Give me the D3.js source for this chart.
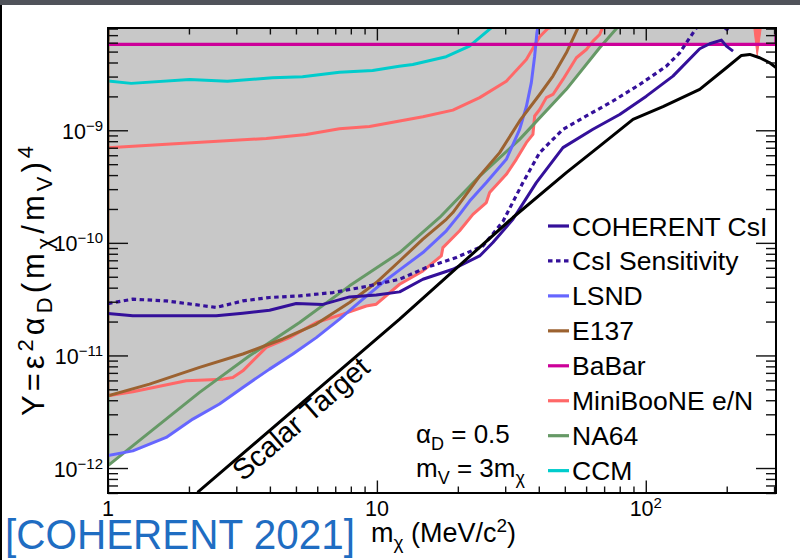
<!DOCTYPE html>
<html>
<head>
<meta charset="utf-8">
<script src="https://cdn.jsdelivr.net/npm/d3@7"></script>
<style>
  body { margin: 0; background: #fff; }
  svg text { font-family: "Liberation Sans", Arial, Helvetica, sans-serif; fill: #000; }
</style>
</head>
<body>
<svg id="chart" width="800" height="560"></svg>
<script>
// Dark-sector limits: points are [m_chi (MeV/c^2), Y]
const coherentCsI = [[1,2.36e-11],[1.237,2.25e-11],[1.646,2.25e-11],[2.527,2.25e-11],[3.173,2.37e-11],[3.989,2.52e-11],[5.013,2.89e-11],[6.297,2.84e-11],[7.914,3.31e-11],[9.95,3.45e-11],[12.15,3.67e-11],[14.83,4.75e-11],[19.17,5.83e-11],[24.11,7.65e-11],[27.01,1.006e-10],[32.06,1.62e-10],[39.17,3.43e-10],[49.2,7.01e-10],[63.62,1.02e-9],[79.97,1.38e-9],[100.5,2.01e-9],[126.2,3.03e-9],[158.7,5.3e-9],[172.9,5.87e-9],[191.1,6.32e-9],[199.5,5.59e-9],[211.1,5.05e-9]];
const csiSensitivity = [[1,2.89e-11],[1.237,3.16e-11],[1.646,3.05e-11],[2.527,2.67e-11],[3.173,3.05e-11],[3.989,3.27e-11],[5.157,3.38e-11],[6.861,3.62e-11],[9.133,4.10e-11],[12.15,4.75e-11],[15.27,6.04e-11],[19.74,7.41e-11],[24.80,9.39e-11],[29.43,1.55e-10],[34.93,3.43e-10],[40.3,6.33e-10],[49.2,1.02e-9],[60.12,1.34e-9],[75.51,1.82e-9],[94.9,2.55e-9],[119.3,3.71e-9],[133.7,4.88e-9],[154.3,8.13e-9],null,[196.6,8.13e-9],[205.2,7.5e-9]];
const lsnd = [[1,1.29e-12],[1.237,1.42e-12],[1.646,1.87e-12],[2.068,2.72e-12],[2.598,3.70e-12],[3.173,5.20e-12],[3.989,7.56e-12],[4.869,1.03e-11],[5.952,1.44e-11],[7.264,2.10e-11],[8.870,3.16e-11],[10.53,4.44e-11],[12.15,5.75e-11],[14.83,8.20e-11],[18.12,1.28e-10],[20.31,1.79e-10],[22.13,2.35e-10],[25.53,3.43e-10],[30.3,5.52e-10],[33.95,1.02e-9],[35.96,1.62e-9],[37.53,2.65e-9],[38.61,4.55e-9],[39.37,7.35e-9],[39.72,8.3e-9]];
const e137 = [[1,8.3e-9],[1,4.38e-12],[1.427,5.56e-12],[2.190,7.83e-12],[3.173,1.03e-11],[4.470,1.40e-11],[5.952,1.90e-11],[7.914,2.95e-11],[9.95,4.44e-11],[12.15,6.9e-11],[14.83,1.08e-10],[18.12,1.62e-10],[19.17,1.86e-10],[24.11,3.92e-10],[28.61,6.33e-10],[33.95,1.21e-9],[40.3,2.08e-9],[45.16,3.03e-9],[50.65,4.88e-9],[55.96,8.13e-9]];
const babar = [[1,5.8e-9],[305,5.8e-9],[305,8.3e-9]];
const miniBooNEe = [[1,7.01e-10],[1.65,7.50e-10],[3.88,8.47e-10],[5.46,9.19e-10],[7.26,1.03e-9],[9.39,1.08e-9],[12.15,1.21e-9],[14.83,1.32e-9],[19.17,1.51e-9],[24.11,1.95e-9],[30.3,2.73e-9],[35.96,4.26e-9],[40.3,6.77e-9],[43.15,8.0e-9],[46.5,8.4e-9]];
const miniBooNEN = [[1,4.38e-12],[1.237,4.75e-12],[1.954,5.95e-12],[2.673,6.16e-12],[2.912,6.38e-12],[3.173,7.30e-12],[3.878,1.18e-11],[4.733,1.44e-11],[5.952,1.96e-11],[7.473,2.33e-11],[9.133,2.75e-11],[9.95,2.85e-11],[12.15,4.29e-11],[14.83,5.63e-11],[17.36,7.65e-11],[17.60,9.08e-11],[20.31,1.28e-10],[22.76,1.79e-10],[25.53,2.28e-10],[26.26,2.80e-10],[30.3,4.06e-10],[33.0,5.52e-10],[35.96,7.76e-10],[38.05,9.19e-10],[38.61,1.34e-9],[40.3,1.53e-9],[42.68,1.95e-9],[45.16,2.08e-9],[49.2,2.83e-9],[55.2,4.41e-9],[60.12,5.22e-9],[63.62,6.19e-9],[67.38,7.10e-9],[69.31,8.3e-9]];
const miniBooNESpike = [[252,8.3e-9],[259.6,4.55e-9],[269.2,8.3e-9]];
const na64 = [[1,4.38e-12],[1,1.05e-12],[1.427,2.07e-12],[2.190,4.70e-12],[3.360,9.92e-12],[5.157,1.96e-11],[7.914,4.15e-11],[12.15,8.20e-11],[17.12,1.68e-10],[24.11,3.92e-10],[33.95,8.30e-10],[50.65,2.31e-9],[67.38,5.41e-9],[78.81,8.3e-9]];
const ccm = [[1,2.74e-9],[1.22,2.61e-9],[2.01,2.83e-9],[2.78,2.72e-9],[4.09,2.93e-9],[5.29,2.99e-9],[7.26,3.28e-9],[9.64,3.40e-9],[12.1,3.71e-9],[13.6,3.84e-9],[18.1,4.50e-9],[22.1,5.59e-9],[26.9,8.3e-9]];
const scalarTarget = [[2.153,6.09e-13],[12.15,2.10e-11],[32.06,1.68e-10],[50.65,4.21e-10],[67.38,7.24e-10],[89.64,1.25e-9],[115.9,1.62e-9],[158.7,2.31e-9],[199.5,3.59e-9],[226.9,4.62e-9],[243.5,4.72e-9],[265.3,4.41e-9],[289.0,3.98e-9],[305,3.6e-9]];

const legendLabels = ["COHERENT CsI", "CsI Sensitivity", "LSND", "E137", "BaBar", "MiniBooNE e/N", "NA64", "CCM"];
const xTickLabels = [{v: 1, base: "1", exp: ""}, {v: 10, base: "10", exp: ""}, {v: 100, base: "10", exp: "2"}];
const yTickExponents = [-12, -11, -10, -9];
const xDomain = [1, 305];
const yDomain = [6e-13, 8.1e-9];

const colors = {
  coherent: "#34109a", lsnd: "#6666ff", e137: "#9c6230", babar: "#cc0099",
  miniboone: "#ff6868", na64: "#669966", ccm: "#00cccc", scalar: "#000000"
};

const svg = d3.select("#chart");
const plot = {left: 108, right: 776, top: 28, bottom: 493};
const x = d3.scaleLog().domain(xDomain).range([plot.left, plot.right]);
const y = d3.scaleLog().domain(yDomain).range([plot.bottom, plot.top]);

// window chrome strip and left edge
svg.append("rect").attr("x", 0).attr("y", 0).attr("width", 800).attr("height", 5).attr("fill", "#50535a");
svg.append("rect").attr("x", 0).attr("y", 5).attr("width", 2).attr("height", 555).attr("fill", "#000");

svg.append("clipPath").attr("id", "plotClip").append("rect")
  .attr("x", plot.left).attr("y", plot.top)
  .attr("width", plot.right - plot.left).attr("height", plot.bottom - plot.top);

const inner = svg.append("g").attr("clip-path", "url(#plotClip)");

// excluded region: everything above the lowest existing limit
function interp(curve, m) {
  let best = null;
  for (let i = 0; i < curve.length - 1; i++) {
    const a = curve[i], b = curve[i + 1];
    if (!a || !b || !(b[0] > a[0])) continue;
    if (m >= a[0] && m <= b[0]) {
      const t = (Math.log(m) - Math.log(a[0])) / (Math.log(b[0]) - Math.log(a[0]));
      const v = Math.exp(Math.log(a[1]) + t * (Math.log(b[1]) - Math.log(a[1])));
      if (best === null || v < best) best = v;
    }
  }
  return best;
}
const exclusionCurves = [lsnd, e137, miniBooNEe, miniBooNEN, na64, ccm];
const gridM = d3.range(0, 1.000001, 1 / 1500).map(t => Math.pow(10, t * Math.log10(xDomain[1])));
exclusionCurves.forEach(c => c.forEach(p => { if (p) gridM.push(p[0]); }));
gridM.sort((a, b) => a - b);
const envelope = gridM.map(m => {
  let v = babar[0][1];
  exclusionCurves.forEach(c => { const r = interp(c, m); if (r !== null && r < v) v = r; });
  return [m, v];
});
inner.append("path")
  .attr("d", d3.area().x(d => x(d[0])).y0(plot.top - 5).y1(d => y(d[1]))(envelope))
  .attr("fill", "#c8c8c8");

const line = d3.line().defined(d => d).x(d => x(d[0])).y(d => y(d[1]));

function drawCurve(data, color, width, dash) {
  inner.append("path").attr("d", line(data)).attr("fill", "none")
    .attr("stroke", color).attr("stroke-width", width)
    .attr("stroke-dasharray", dash || null)
    .attr("stroke-linejoin", "round");
}

drawCurve(ccm, colors.ccm, 3);
drawCurve(miniBooNEe, colors.miniboone, 3);
drawCurve(miniBooNEN, colors.miniboone, 3);
inner.append("path").attr("d", line(miniBooNESpike) + "Z").attr("fill", colors.miniboone).attr("stroke", colors.miniboone).attr("stroke-width", 1);
drawCurve(na64, colors.na64, 3);
drawCurve(lsnd, colors.lsnd, 3);
drawCurve(e137, colors.e137, 3);
drawCurve(babar, colors.babar, 3.4);
drawCurve(coherentCsI, colors.coherent, 3);
drawCurve(csiSensitivity, colors.coherent, 3.2, "4.5,3.5");
drawCurve(scalarTarget, colors.scalar, 3);

// axes: ticks pointing into the frame on all four sides
const isDecade = v => Math.abs(Math.log10(v) - Math.round(Math.log10(v))) < 1e-6;
const xMinor = x.ticks().filter(v => !isDecade(v));
const xMajor = x.ticks().filter(isDecade);
const yMajor = y.ticks().filter(isDecade);
const yMinor = y.ticks().filter(v => !isDecade(v));

function tickGroup(axis, tx, ty) {
  const g = svg.append("g").attr("transform", `translate(${tx},${ty})`).call(axis);
  g.select(".domain").remove();
  g.selectAll(".tick line").attr("stroke", "#111").attr("stroke-width", 1.4);
  return g;
}
tickGroup(d3.axisBottom(x).tickValues(xMinor).tickSize(-6.5).tickFormat(""), 0, plot.bottom);
tickGroup(d3.axisBottom(x).tickValues(xMajor).tickSize(-12.5).tickFormat(""), 0, plot.bottom);
tickGroup(d3.axisTop(x).tickValues(xMinor).tickSize(-6.5).tickFormat(""), 0, plot.top);
tickGroup(d3.axisTop(x).tickValues(xMajor).tickSize(-12.5).tickFormat(""), 0, plot.top);
tickGroup(d3.axisLeft(y).tickValues(yMinor).tickSize(-10).tickFormat(""), plot.left, 0);
tickGroup(d3.axisLeft(y).tickValues(yMajor).tickSize(-20).tickFormat(""), plot.left, 0);
tickGroup(d3.axisRight(y).tickValues(yMinor).tickSize(-10).tickFormat(""), plot.right, 0);
tickGroup(d3.axisRight(y).tickValues(yMajor).tickSize(-20).tickFormat(""), plot.right, 0);

svg.append("rect").attr("x", plot.left).attr("y", plot.top)
  .attr("width", plot.right - plot.left).attr("height", plot.bottom - plot.top)
  .attr("fill", "none").attr("stroke", "#000").attr("stroke-width", 2);

// tick labels
yTickExponents.forEach(e => {
  const t = svg.append("text").attr("x", 103).attr("y", y(Math.pow(10, e)) + 8.5)
    .attr("text-anchor", "end").attr("font-size", 21.5);
  t.append("tspan").text("10");
  t.append("tspan").attr("dy", -8).attr("font-size", 15).text("\u2212" + Math.abs(e));
});
xTickLabels.forEach(d => {
  const t = svg.append("text").attr("x", x(d.v)).attr("y", 516)
    .attr("text-anchor", "middle").attr("font-size", 21.5);
  t.append("tspan").text(d.base);
  if (d.exp) t.append("tspan").attr("dy", -8).attr("font-size", 15).text(d.exp);
});

// axis titles
const xt = svg.append("text").attr("x", 371).attr("y", 542).attr("font-size", 27);
xt.append("tspan").text("m");
xt.append("tspan").attr("dy", 7).attr("font-size", 19).text("\u03c7");
xt.append("tspan").attr("dy", -7).text(" (MeV/c");
xt.append("tspan").attr("dy", -10).attr("font-size", 19).text("2");
xt.append("tspan").attr("dy", 10).text(")");

const yt = svg.append("text").attr("transform", "translate(44,281) rotate(-90)")
  .attr("text-anchor", "middle").attr("font-size", 31);
yt.append("tspan").text("Y=\u03b5");
yt.append("tspan").attr("dy", -11).attr("font-size", 22).text("2");
yt.append("tspan").attr("dy", 11).text("\u03b1");
yt.append("tspan").attr("dy", 8).attr("font-size", 22).text("D");
yt.append("tspan").attr("dy", -8).text("(m");
yt.append("tspan").attr("dy", 8).attr("font-size", 22).text("\u03c7");
yt.append("tspan").attr("dy", -8).text("/m");
yt.append("tspan").attr("dy", 8).attr("font-size", 22).text("V");
yt.append("tspan").attr("dy", -8).text(")");
yt.append("tspan").attr("dy", -11).attr("font-size", 22).text("4");
const ytLen = yt.node().getComputedTextLength();
if (ytLen < 270) yt.attr("textLength", 270).attr("lengthAdjust", "spacing");

// scalar target label along its line
svg.append("text").attr("transform", "translate(243,482) rotate(-41)")
  .attr("font-size", 29).text("Scalar Target");

// model parameters
const p1 = svg.append("text").attr("x", 416).attr("y", 443).attr("font-size", 26);
p1.append("tspan").text("\u03b1");
p1.append("tspan").attr("dy", 7).attr("font-size", 18).text("D");
p1.append("tspan").attr("dy", -7).text(" = 0.5");
const p2 = svg.append("text").attr("x", 416).attr("y", 477).attr("font-size", 26);
p2.append("tspan").text("m");
p2.append("tspan").attr("dy", 7).attr("font-size", 18).text("V");
p2.append("tspan").attr("dy", -7).text(" = 3m");
p2.append("tspan").attr("dy", 7).attr("font-size", 18).text("\u03c7");

// legend
const legendStyles = [
  {color: colors.coherent, dash: null},
  {color: colors.coherent, dash: "4.5,3.5"},
  {color: colors.lsnd, dash: null},
  {color: colors.e137, dash: null},
  {color: colors.babar, dash: null},
  {color: colors.miniboone, dash: null},
  {color: colors.na64, dash: null},
  {color: colors.ccm, dash: null}
];
const legend = svg.append("g");
legendLabels.forEach((label, i) => {
  const cy = 226 + i * 34.95;
  legend.append("line").attr("x1", 548).attr("x2", 569).attr("y1", cy).attr("y2", cy)
    .attr("stroke", legendStyles[i].color).attr("stroke-width", 3.2)
    .attr("stroke-dasharray", legendStyles[i].dash);
  legend.append("text").attr("x", 572).attr("y", cy + 9.5).attr("font-size", 26.5).text(label);
});

// citation
svg.append("text").attr("x", 5).attr("y", 549).attr("font-size", 42)
  .attr("textLength", 350).attr("lengthAdjust", "spacingAndGlyphs")
  .style("fill", "#1f6dc2").text("[COHERENT 2021]");
</script>
</body>
</html>
